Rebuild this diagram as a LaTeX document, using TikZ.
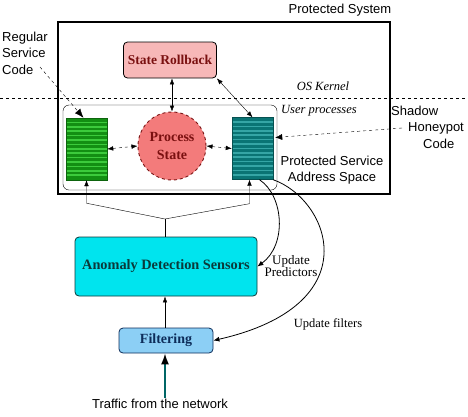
\documentclass[tikz,border=0pt]{standalone}
\usepackage{fontspec}
\setmainfont{Liberation Serif}
\setsansfont{Liberation Sans}
\usetikzlibrary{arrows.meta}
\definecolor{RollFill}{HTML}{F7B8B8}
\definecolor{RollText}{HTML}{7A1010}
\definecolor{ProcFill}{HTML}{F37B7B}
\definecolor{ProcEdge}{HTML}{7A1515}
\definecolor{GreenBase}{HTML}{138F13}
\definecolor{GreenLine}{HTML}{3CCB3C}
\definecolor{TealBase}{HTML}{0A7474}
\definecolor{TealLine}{HTML}{35A5A5}
\definecolor{SensFill}{HTML}{00E4EE}
\definecolor{SensText}{HTML}{0B3A3A}
\definecolor{FiltFill}{HTML}{8CCFF5}
\definecolor{FiltText}{HTML}{0D2D5A}
\definecolor{NetLine}{HTML}{006666}

\tikzset{
  sflabel/.style={font=\sffamily\fontsize{13}{16.5}\selectfont, inner sep=1pt},
  itlabel/.style={font=\itshape\fontsize{12.5}{14}\selectfont, inner sep=1pt},
  serlabel/.style={font=\fontsize{13}{12}\selectfont, inner sep=1pt, align=center},
  boxnode/.style={draw, rounded corners=4pt, thick, font=\bfseries\fontsize{13.5}{15}\selectfont, inner sep=0pt},
  codeblk/.style 2 args={draw=#1!70!black, fill=#1, minimum width=41pt, minimum height=62pt, inner sep=0pt,
    path picture={\foreach \k in {1,...,13}
      \draw[#2, line width=1.6pt] ([yshift=-\k*4.4pt]path picture bounding box.north west) -- ([yshift=-\k*4.4pt]path picture bounding box.north east);}},
  tip/.style={{Latex[length=6pt,width=4.5pt]}-{Latex[length=6pt,width=4.5pt]}},
}

\begin{document}
\begin{tikzpicture}[x=1pt, y=-1pt]
  \useasboundingbox (0,0) rectangle (468,416);
  % protected system and kernel boundary
  \draw[line width=1.1pt] (58,22) rectangle (390,194);
  \node[sflabel] (psys) at (340,10) {Protected System};
  \draw[dashed] (0,98) -- (468,98);
  \node[itlabel] (kernel) at (323,86) {OS Kernel};
  \draw[rounded corners=6pt] (63,105) rectangle (277,190);
  \node[itlabel, anchor=west] (user) at (280,111) {User processes};
  \node[sflabel, align=center] (space) at (332,170) {Protected Service\\Address Space};

  \node[boxnode, fill=RollFill, text=RollText, minimum width=93pt, minimum height=36pt] (roll) at (170,60) {State Rollback};
  \node[codeblk={GreenBase}{GreenLine}] (green) at (86.5,149) {};
  \node[codeblk={TealBase}{TealLine}] (teal) at (252.5,148.5) {};
  \node[circle, draw=ProcEdge, dashed, line width=0.9pt, fill=ProcFill, text=RollText, minimum size=68pt, inner sep=0pt,
        align=center, font=\bfseries\fontsize{14}{18}\selectfont] (proc) at (172,146) {Process\\State};

  \draw[tip] (roll.south -| proc.north) -- (proc.north);
  \draw[tip, dashed] (green.east) -- (proc.west);
  \draw[tip, dashed] (proc.east) -- (teal.west);
  \draw[tip] (roll.south east) -- (teal.north);

  % labels outside
  \node[sflabel, align=left, anchor=west] (regular) at (1,53) {Regular\\Service\\Code};
  \coordinate (regtail) at (40,67);
  \draw[dashed, -{Latex[length=9pt,width=7pt]}] (regtail) -- ([xshift=-3pt]green.north);
  \node[sflabel, align=left, anchor=west] (shadow) at (390,127) {Shadow\\\hspace{17pt}Honeypot\\\hspace{32pt}Code};
  \coordinate (shtail) at (402,128);
  \draw[dashed, -{Latex[length=7pt,width=6pt]}] (shtail) -- ([yshift=11pt, xshift=2pt]teal.east);

  % sensors and filtering
  \node[boxnode, fill=SensFill, draw=SensText, text=SensText, minimum width=182pt, minimum height=59pt,
        font=\bfseries\fontsize{14.3}{16}\selectfont] (ads) at (166,266.5) {Anomaly Detection Sensors};
  \node[boxnode, fill=FiltFill, draw=FiltText, text=FiltText, minimum width=94pt, minimum height=25pt,
        font=\bfseries\fontsize{14}{16}\selectfont] (filter) at (166,340.5) {Filtering};
  \coordinate (join) at (165,219);
  \draw (ads.north -| join) -- (join);
  \draw[-{Latex[length=6pt,width=4.5pt]}] (join) -- ([yshift=-23pt]green.south) -- (green.south);
  \draw[-{Latex[length=6pt,width=4.5pt]}] (join) -- ([yshift=-24pt, xshift=-3pt]teal.south) -- ([xshift=-3pt]teal.south);
  \draw[-{Latex[length=6pt,width=4.5pt]}] (filter.north -| join) -- (ads.south -| join);

  \draw[thick, -{Latex[length=6pt,width=5pt]}] ([xshift=7pt]teal.south) .. controls (284,196) and (287,245) .. (ads.east);
  \node[serlabel] (pred) at (291,266) {Update\\Predictors};
  \draw[thick, -{Latex[length=6pt,width=5pt]}] (teal.south east) .. controls (330,200) and (370,305) .. (filter.east);
  \node[serlabel, font=\fontsize{12.5}{12}\selectfont] (upfilt) at (328,324) {Update filters};

  \node[sflabel] (traffic) at (160,404) {Traffic from the network};
  \draw[NetLine, line width=1.6pt, -{Latex[length=11pt,width=8pt,color=black]}] (traffic.north -| join) -- (filter.south -| join);
\end{tikzpicture}
\end{document}
